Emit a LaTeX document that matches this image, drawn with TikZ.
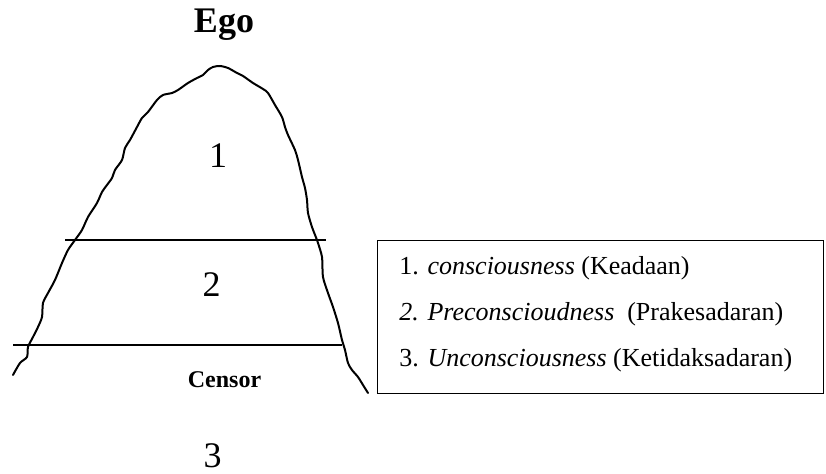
\documentclass[tikz,border=0pt]{standalone}
\usepackage{fontspec}
\setmainfont{Liberation Serif}
\usetikzlibrary{positioning}

\begin{document}
\begin{tikzpicture}[
  x=0.5pt, y=-0.5pt,
  title/.style={anchor=base, inner sep=0pt, font=\fontsize{18}{21}\selectfont\bfseries},
  level/.style={anchor=base, inner sep=0pt, font=\fontsize{18}{21}\selectfont},
  censorlabel/.style={anchor=base, inner sep=0pt, font=\fontsize{12}{14}\selectfont\bfseries},
  legend/.style={rectangle, draw, line width=0.6pt, anchor=north west,
                 minimum width=223pt, minimum height=76.5pt},
  entry/.style={anchor=base west, inner sep=0pt, font=\fontsize{13}{15}\selectfont},
  outline/.style={line width=1pt, line join=round, line cap=round},
  divider/.style={line width=0.8pt},
]
  \useasboundingbox (0,0) rectangle (826,474);

  % the iceberg outline
  \draw[outline] plot[smooth, tension=0.45] coordinates {
    (13,375) (20,363) (27,357) (28,347) (33,337) (38,327) (42,317)
    (43,303) (48,293) (55,280) (62,263) (68,250) (75,240) (82,230)
    (88,217) (97,203) (102,192) (107,185) (112,178) (115,170) (122,160)
    (125,148) (130,140) (137,127) (142,118) (148,112) (157,100) (163,95)
    (172,93) (178,90) (188,83) (197,78) (203,75) (208,70) (213,67)
    (220,66) (228,68) (237,73) (243,76) (253,83) (263,89) (268,93)
    (275,105) (282,117) (285,127) (288,135) (295,150) (298,160)
    (302,177) (305,188) (307,200) (308,213) (312,227) (317,240)
    (318,243) (322,257) (323,277) (328,293) (333,307) (338,323)
    (342,340) (345,350) (348,363) (352,370) (358,377) (363,385) (368,393)};

  % level borders
  \coordinate (upL) at (65,240);
  \coordinate (upR) at (326,240);
  \coordinate (loL) at (13,345);
  \coordinate (loR) at (342,345);
  \draw[divider] (upL) -- (upR);
  \draw[divider] (loL) -- (loR);

  \node[title] (ego)          at (224,33)  {Ego};
  \node[level] (one)          at (218,168) {1};
  \node[level] (two)          at (211.5,297) {2};
  \node[censorlabel] (censor) at (224.5,388) {Censor};
  \node[level] (three)        at (212.5,468) {3};

  % legend
  \node[legend] (key) at (377,240) {};
  \node[entry] (k1) at (399,275) {1. \textit{consciousness} (Keadaan)};
  \node[entry] (k2) at (399,321) {\textit{2. Preconscioudness}\ \ (Prakesadaran)};
  \node[entry] (k3) at (399,367) {3. \textit{Unconsciousness} (Ketidaksadaran)};
\end{tikzpicture}
\end{document}
